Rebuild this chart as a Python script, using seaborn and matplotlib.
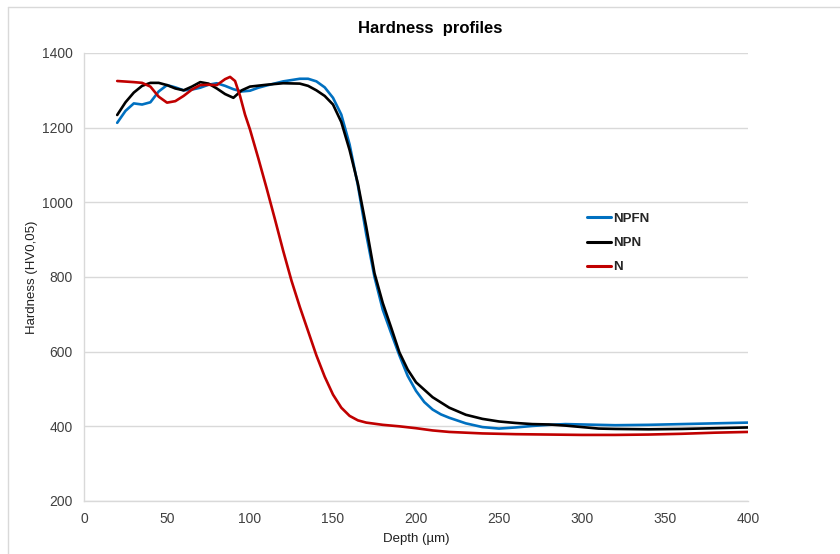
import numpy as np
import pandas as pd
import matplotlib
matplotlib.use("Agg")
import matplotlib.pyplot as plt
import seaborn as sns
from matplotlib.lines import Line2D

# ---- data ----
npfn_depth = [20, 25, 30, 35, 40, 45, 50, 55, 60, 65, 70, 75, 80, 85, 90, 95, 100, 105, 110, 120,
              130, 135, 140, 145, 150, 155, 160, 165, 170, 175, 180, 185, 190, 195, 200, 205, 210, 215,
              220, 230, 240, 250, 260, 270, 280, 290, 300, 320, 340, 360, 380, 400]
npfn_hard = [1213, 1245, 1265, 1262, 1268, 1297, 1314, 1308, 1300, 1302, 1307, 1315, 1319, 1312,
             1303, 1297, 1299, 1307, 1313, 1324, 1331, 1331, 1324, 1308, 1280, 1235, 1155, 1045, 915,
             800, 712, 650, 590, 535, 495, 465, 445, 432, 423, 408, 398, 394, 397, 401, 404, 406,
             405, 403, 404, 406, 408, 410]

npn_depth = [20, 25, 30, 35, 40, 45, 50, 55, 60, 65, 70, 75, 80, 85, 90, 95, 100, 110, 120, 130,
             135, 140, 145, 150, 155, 160, 165, 170, 175, 180, 185, 190, 195, 200, 210, 220, 230, 240,
             250, 260, 270, 280, 290, 300, 310, 320, 340, 360, 380, 400]
npn_hard = [1234, 1268, 1294, 1312, 1320, 1320, 1314, 1305, 1300, 1310, 1322, 1318, 1305, 1290,
            1280, 1300, 1310, 1315, 1319, 1318, 1312, 1300, 1285, 1262, 1215, 1140, 1050, 935, 810,
            730, 665, 598, 552, 518, 478, 450, 431, 420, 413, 409, 406, 405, 402, 398, 394, 393,
            392, 393, 395, 397]

n_depth = [20, 30, 35, 40, 45, 50, 55, 60, 65, 70, 75, 80, 85, 88, 91, 94, 97, 100, 105, 110, 115,
           120, 125, 130, 135, 140, 145, 150, 155, 160, 165, 170, 180, 190, 200, 210, 220, 240,
           260, 280, 300, 320, 340, 360, 380, 400]
n_hard = [1325, 1322, 1320, 1310, 1283, 1267, 1271, 1285, 1302, 1314, 1315, 1314, 1330, 1336,
          1325, 1285, 1235, 1195, 1118, 1038, 955, 870, 790, 720, 655, 590, 533, 485, 450, 428, 416,
          410, 404, 400, 395, 389, 385, 381, 379, 378, 377, 377, 378, 380, 383, 385]

series_names = ["NPFN", "NPN", "N"]
series_colors = ["#0070C0", "#000000", "#C00000"]
x_ticks = [0, 50, 100, 150, 200, 250, 300, 350, 400]
y_ticks = [200, 400, 600, 800, 1000, 1200, 1400]

df = pd.concat([
    pd.DataFrame({"Depth": npfn_depth, "Hardness": npfn_hard, "Sample": "NPFN"}),
    pd.DataFrame({"Depth": npn_depth, "Hardness": npn_hard, "Sample": "NPN"}),
    pd.DataFrame({"Depth": n_depth, "Hardness": n_hard, "Sample": "N"}),
], ignore_index=True)

sns.set_theme(style="white")
plt.rcParams["font.family"] = ["Liberation Sans", "DejaVu Sans"]

fig = plt.figure(figsize=(8.4, 5.54), dpi=100)
ax = fig.add_axes([84 / 840, 1 - 501 / 554, (748 - 84) / 840, (501 - 53) / 554])

sns.lineplot(data=df, x="Depth", y="Hardness", hue="Sample", hue_order=series_names,
             palette=dict(zip(series_names, series_colors)), estimator=None, sort=False,
             linewidth=1.9, legend=False, ax=ax, solid_joinstyle="round", solid_capstyle="round")

ax.set_xlim(0, 400)
ax.set_ylim(200, 1400)
ax.set_xticks(x_ticks)
ax.set_yticks(y_ticks)
ax.tick_params(axis="both", length=0, labelsize=10, labelcolor="#404040", pad=8)
ax.yaxis.grid(True, color="#d9d9d9", linewidth=1.0)
ax.xaxis.grid(False)
for side in ["top", "right"]:
    ax.spines[side].set_visible(False)
for side in ["left", "bottom"]:
    ax.spines[side].set_color("#d9d9d9")
    ax.spines[side].set_linewidth(1.0)

ax.set_xlabel("Depth (µm)", fontsize=9.5, color="#202020", labelpad=5)
ax.set_ylabel("Hardness (HV0,05)", fontsize=9.5, color="#202020", labelpad=3)
fig.text(430 / 840, 1 - 28 / 554, "Hardness  profiles", ha="center", va="center",
         fontsize=12, fontweight="bold", color="#000000")

handles = [Line2D([0], [0], color=c, lw=2.2) for c in series_colors]
leg = ax.legend(handles, series_names, loc="upper left",
                bbox_to_anchor=((575 - 84) / 664, (501 - 201) / 448),
                frameon=False, handlelength=1.8, handletextpad=0.2, labelspacing=0.9,
                prop={"weight": "bold", "size": 9.5})

# chart border (left/top visible)
fig.add_artist(Line2D([8 / 840, 8 / 840], [0, 1 - 7 / 554], transform=fig.transFigure,
                      color="#d9d9d9", lw=1))
fig.add_artist(Line2D([8 / 840, 1], [1 - 7 / 554, 1 - 7 / 554], transform=fig.transFigure,
                      color="#d9d9d9", lw=1))

fig.savefig("out.png", dpi=100)
